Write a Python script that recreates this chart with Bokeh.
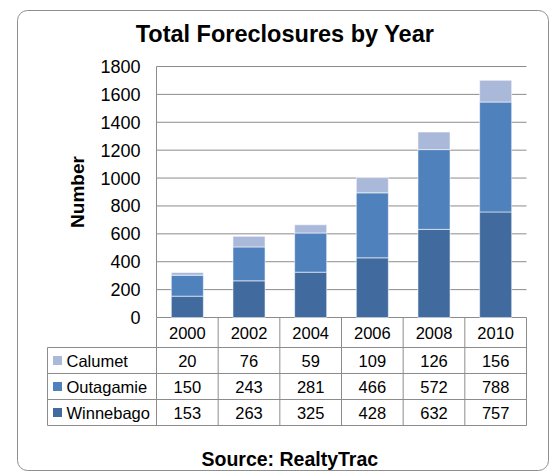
from bokeh.plotting import figure
from bokeh.models import Range1d, LinearAxis, FixedTicker
from bokeh.models import ColumnDataSource
from bokeh.core.properties import value
from bokeh.embed import file_html
from bokeh.resources import INLINE

# ---- data ----
years = ["2000", "2002", "2004", "2006", "2008", "2010"]
series = ["Calumet", "Outagamie", "Winnebago"]
calumet = [20, 76, 59, 109, 126, 156]
outagamie = [150, 243, 281, 466, 572, 788]
winnebago = [153, 263, 325, 428, 632, 757]
y_ticks = [0, 200, 400, 600, 800, 1000, 1200, 1400, 1600, 1800]
source_text = "Source:  RealtyTrac"
title_text = "Total Foreclosures by Year"

colors = {"Calumet": "#AAB9D9", "Outagamie": "#4F81BD", "Winnebago": "#416B9E"}
FONT = "Liberation Sans"
GRID = "#8c8c8c"

# ---- pixel layout (frame = whole canvas) ----
W, H = 551, 471
x0_px, col_px = 156, 370 / 6          # value x=0 position, width of one year column
y0_px, px_y = 317, 251 / 1800         # value y=0 position, pixels per unit


def dx(px):
    return (px - x0_px) / col_px


def dy(px):
    return (y0_px - px) / px_y


x_lo, x_hi = dx(0), dx(W)
y_hi, y_lo = dy(0), dy(H)

tbl_left = -109 / col_px
hdr_bot = -30 / px_y
row_h = 26 / px_y
row_tops = [hdr_bot - k * row_h for k in range(3)]
row_mid = [t - row_h / 2 for t in row_tops]
tbl_bot = hdr_bot - 3 * row_h

p = figure(width=W, height=H, x_range=Range1d(x_lo, x_hi), y_range=Range1d(y_lo, y_hi),
           output_backend="svg", toolbar_location=None, x_axis_type=None, y_axis_type=None,
           min_border=0)
p.outline_line_color = None

# rounded chart-area border
p.quad(left=[dx(17)], right=[dx(548)], top=[dy(10)], bottom=[dy(470)], border_radius=10,
       fill_color=None, line_color="#8e8e8e", line_width=1)

# gridlines across the plot area
n = len(years)
p.segment(x0=[0] * len(y_ticks), x1=[n] * len(y_ticks), y0=y_ticks, y1=y_ticks,
          line_color=GRID, line_width=1)

# stacked bars
src = ColumnDataSource(dict(x=[i + 0.5 for i in range(n)], Winnebago=winnebago,
                            Outagamie=outagamie, Calumet=calumet))
stack = ["Winnebago", "Outagamie", "Calumet"]
p.vbar_stack(stack, x="x", width=0.52, source=src,
             fill_color=[colors[s] for s in stack], line_color="white", line_alpha=0.55, line_width=1)

# y axis
yaxis = LinearAxis(fixed_location=0, bounds=(0, 1800), ticker=FixedTicker(ticks=y_ticks),
                   axis_label="Number")
yaxis.major_tick_out = 0
yaxis.major_tick_in = 0
yaxis.minor_tick_out = 0
yaxis.minor_tick_in = 0
yaxis.axis_line_color = GRID
yaxis.major_label_standoff = 16
yaxis.major_label_text_font = FONT
yaxis.major_label_text_font_size = "18px"
yaxis.major_label_text_color = "black"
yaxis.axis_label_text_font = FONT
yaxis.axis_label_text_font_size = "19px"
yaxis.axis_label_text_font_style = "bold"
yaxis.axis_label_text_color = "black"
yaxis.axis_label_standoff = 9
p.add_layout(yaxis, "left")

# data table grid
vx = list(range(0, n + 1))
p.segment(x0=vx, x1=vx, y0=[0] * len(vx), y1=[tbl_bot] * len(vx), line_color=GRID, line_width=1)
p.segment(x0=[tbl_left], x1=[tbl_left], y0=[hdr_bot], y1=[tbl_bot], line_color=GRID, line_width=1)
hy = [hdr_bot] + [t - row_h for t in row_tops]
p.segment(x0=[tbl_left] * len(hy), x1=[n] * len(hy), y0=hy, y1=hy, line_color=GRID, line_width=1)

# header years
p.text(x=[i + 0.5 for i in range(n)], y=[hdr_bot / 2] * n, text=years,
       text_font=value(FONT), text_font_size="16.5px", text_align="center",
       text_baseline="middle", text_color="black")

# rows
rows = {"Calumet": calumet, "Outagamie": outagamie, "Winnebago": winnebago}
for k, s in enumerate(series):
    p.text(x=[i + 0.5 for i in range(n)], y=[row_mid[k]] * n, text=[str(v) for v in rows[s]],
           text_font=value(FONT), text_font_size="16.5px", text_align="center",
           text_baseline="middle", text_color="black")

p.scatter(x=[tbl_left + 10 / col_px] * 3, y=row_mid, marker="square", size=9,
          fill_color=[colors[s] for s in series], line_color=None)
p.text(x=[tbl_left + 19 / col_px] * 3, y=row_mid, text=series,
       text_font=value(FONT), text_font_size="16.5px", text_align="left",
       text_baseline="middle", text_color="black")

# title and source note
p.text(x=[dx(284.5)], y=[dy(33.5)], text=[title_text],
       text_font=value(FONT), text_font_size="23.5px", text_font_style="bold",
       text_align="center", text_baseline="middle", text_color="black")
p.text(x=[dx(292)], y=[dy(458)], text=[source_text],
       text_font=value(FONT), text_font_size="19.5px", text_font_style="bold",
       text_align="center", text_baseline="middle", text_color="black")

open("out.html", "w").write(file_html(p, INLINE))
